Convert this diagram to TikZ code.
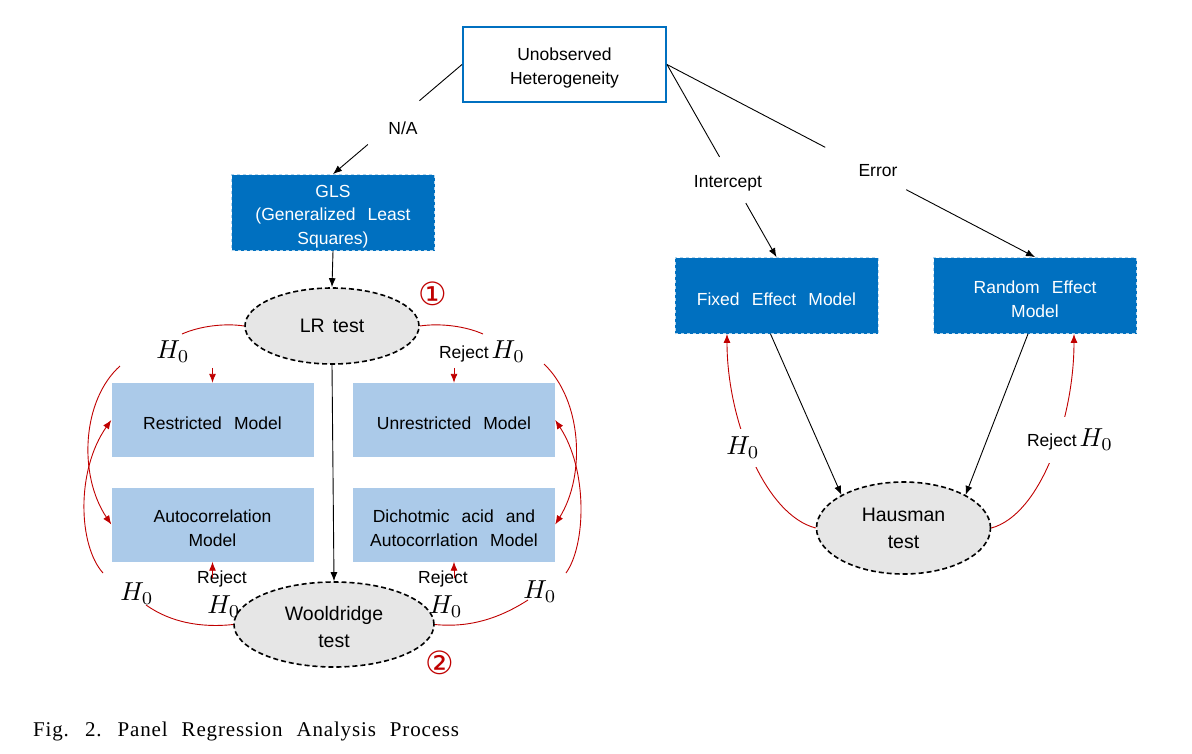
\documentclass[tikz,border=0pt]{standalone}
\usepackage{fontspec}
\setmainfont[WordSpace=2.5]{Liberation Sans}
\newfontfamily\ellfont[WordSpace=1.5]{Liberation Sans}
\newfontfamily\capfont[LetterSpace=4,WordSpace=2.3]{Liberation Serif}
\newfontfamily\symfont{DejaVu Sans}
\usetikzlibrary{shapes.geometric,arrows.meta,calc}
\definecolor{mblue}{RGB}{0,112,192}
\definecolor{lblue}{RGB}{171,202,233}
\definecolor{egray}{RGB}{230,230,230}
\definecolor{rred}{RGB}{192,0,0}
\newcommand{\hnull}{{\fontsize{10}{12}\selectfont\scalebox{2.6}{$H_0$}}}
\newcommand{\lowr}{\rule{0pt}{20pt}}
\begin{document}
\begin{tikzpicture}[x=1pt,y=-1pt,
  txt/.style={font=\fontsize{17.5}{23.5}\selectfont, align=center, execute at begin node={\rule{0pt}{19.5pt}}},
  hbox/.style={txt, draw=mblue, line width=2pt, fill=white, minimum width=203pt, minimum height=75pt, inner sep=0pt},
  dbox/.style={txt, text=white, fill=mblue, draw=white!70!mblue, dashed, line width=0.8pt, minimum width=203pt, minimum height=76pt, inner sep=0pt},
  lbox/.style={txt, fill=lblue, minimum width=202pt, minimum height=74pt, inner sep=0pt},
  ell/.style={ellipse, fill=egray, draw=black, line width=1.6pt, dash pattern=on 5pt off 3pt, font=\ellfont\fontsize{19.5}{27}\selectfont, align=center, inner sep=0pt},
  elab/.style={font=\fontsize{17.5}{21}\selectfont, inner sep=1pt},
  hlab/.style={inner sep=0pt},
  barr/.style={line width=0.9pt, -{Latex[length=9pt,width=7pt]}},
  bline/.style={line width=0.9pt},
  rline/.style={draw=rred, line width=0.9pt},
  rarr/.style={rline, -{Latex[length=9pt,width=7pt]}},
  num/.style={font=\symfont\fontsize{32}{34}\selectfont, text=rred, inner sep=0pt}
]
\useasboundingbox (0,0) rectangle (1192,753);
\fill[white] (0,0) rectangle (1192,753);

% nodes
\node[hbox] (uh) at (564.5,64.5) {\lowr Unobserved\\Heterogeneity};
\node[dbox] (gls) at (333,212.5) {\lowr GLS\\(Generalized Least\\Squares)};
\node[ell, minimum width=174pt, minimum height=76pt] (lr) at (332,326) {LR test};
\node[lbox] (rm) at (212.5,420) {Restricted Model};
\node[lbox] (um) at (454,420) {Unrestricted Model};
\node[lbox] (am) at (212.5,524.5) {\lowr Autocorrelation\\Model};
\node[lbox] (dm) at (454,524.5) {\lowr Dichotmic acid and\\Autocorrlation Model};
\node[ell, minimum width=200pt, minimum height=85pt] (wt) at (334,624.5) {\rule{0pt}{20pt}Wooldridge\\test};
\node[dbox] (fe) at (776.5,295.5) {Fixed Effect Model};
\node[dbox] (re) at (1035,295.5) {\lowr Random Effect\\Model};
\node[ell, minimum width=174pt, minimum height=92pt] (ht) at (903.5,528) {Hausman\\test};

% black connectors
\draw[bline] (uh.west) -- ($(uh.west)!0.33!(gls.north)$);
\draw[barr] ($(uh.west)!0.73!(gls.north)$) -- (gls.north);
\node[elab] (na) at (403,128) {N/A};
\draw[bline] (uh.east) -- ($(uh.east)!0.48!(fe.north)$);
\draw[barr] ($(uh.east)!0.72!(fe.north)$) -- (fe.north);
\node[elab] (ic) at (728,183) {Intercept};
\draw[bline] (uh.east) -- ($(uh.east)!0.43!(re.north)$);
\draw[barr] ($(uh.east)!0.65!(re.north)$) -- (re.north);
\node[elab] (er) at (878,171) {Error};
\draw[barr] (gls.south) -- (lr.north);
\draw[barr] (lr.south) -- (wt.north);
\draw[barr] ([xshift=-6pt]fe.south) -- (ht.north west);
\draw[barr] ([xshift=-7pt]re.south) -- (ht.north east);

% red: LR test
\coordinate (tl) at (182,334);
\draw[rline] (lr.west) .. controls (225,323) and (200,326) .. (tl);
\node[hlab] (h1) at (173,352) {\hnull};
\draw[rarr] ([yshift=15pt]rm.north) -- (rm.north);
\coordinate (tr) at (483,334);
\draw[rline] (lr.east) .. controls (440,323) and (465,326) .. (tr);
\node[elab] (rj1) at (482,352) {Reject\hspace{3pt}\hnull};
\draw[rarr] ([yshift=15pt]um.north) -- (um.north);

% red: outer curves
\coordinate (la) at (120,366);
\coordinate (lb) at (103,573);
\draw[rarr] (la) .. controls (82,400) and (78,475) .. (am.west);
\draw[rarr] (lb) .. controls (78,545) and (76,470) .. (rm.west);
\coordinate (ra) at (544,364);
\coordinate (rb) at (566,573);
\draw[rarr] (ra) .. controls (582,400) and (586,475) .. (dm.east);
\draw[rarr] (rb) .. controls (586,545) and (588,470) .. (um.east);

% red: Wooldridge
\coordinate (bl) at (146,605);
\draw[rline] (wt.west) .. controls (200,628) and (170,622) .. (bl);
\coordinate (br) at (528,600);
\draw[rline] (wt.east) .. controls (470,628) and (500,618) .. (br);
\node[hlab] (h2) at (137,594) {\hnull};
\node[hlab] (h3) at (224,607) {\hnull};
\node[hlab] (h4) at (446,607) {\hnull};
\node[hlab] (h5) at (540,592) {\hnull};
\node[elab] (rj2) at (222,579) {Reject};
\node[elab] (rj3) at (443,579) {Reject};
\draw[rarr] ([yshift=-16pt]am.south) -- (am.south);
\draw[rarr] ([yshift=-16pt]dm.south) -- (dm.south);

% red: Hausman
\draw[rarr] (ht.west) .. controls (765,515) and (727,420) .. ([xshift=-49.5pt]fe.south);
\node[hlab, fill=white, inner sep=8pt] (h6) at (743,448) {\hnull};
\draw[rarr] (ht.east) .. controls (1040,515) and (1074,420) .. ([xshift=39pt]re.south);
\node[elab, fill=white, inner ysep=12pt] (rj4) at (1070,440) {Reject\hspace{3pt}\hnull};

% numbers
\node[num] (n1) at (433,294) {①};
\node[num] (n2) at (440,663) {②};

% caption
\node[anchor=west, font=\capfont\fontsize{21}{24}\selectfont, inner sep=0pt] (cap) at (33,731) {Fig. 2. Panel Regression Analysis Process};
\end{tikzpicture}
\end{document}
